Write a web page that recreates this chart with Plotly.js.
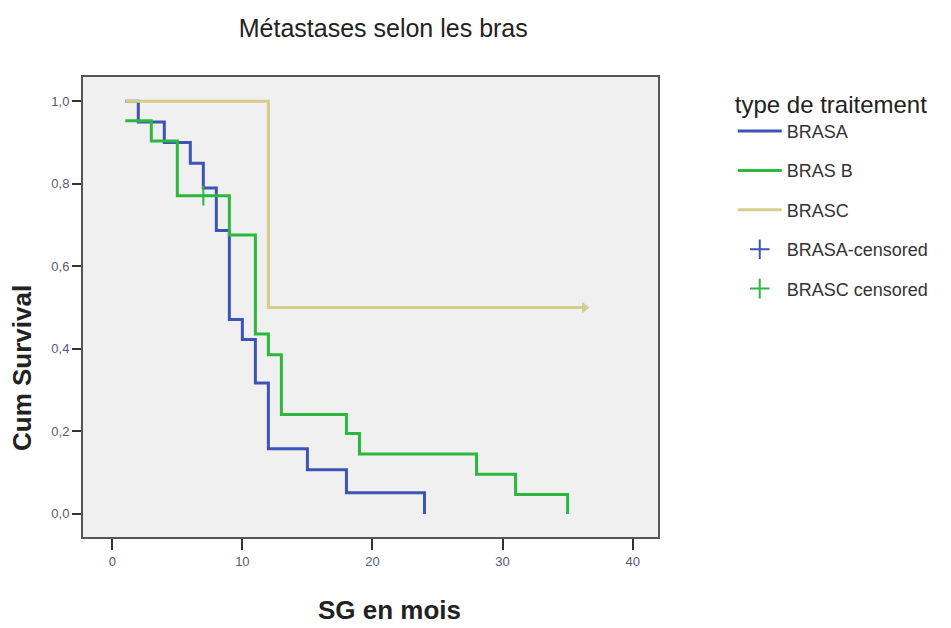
<!DOCTYPE html>
<html>
<head>
<meta charset="utf-8">
<script src="https://cdn.plot.ly/plotly-3.0.1.min.js"></script>
<style>
  html, body { margin: 0; padding: 0; background: #ffffff; }
  #chart { width: 951px; height: 628px; }
</style>
</head>
<body>
<div id="chart"></div>
<script>
// Kaplan-Meier steps (time in months, cumulative survival)
const brasATimes = [1, 2, 4, 6, 7, 8, 9, 10, 11, 12, 15, 18, 24];
const brasASurv  = [1.0, 0.95, 0.90, 0.85, 0.79, 0.687, 0.471, 0.423, 0.317, 0.158, 0.107, 0.051, 0.0];

const brasBTimes = [1, 3, 5, 9, 11, 12, 13, 18, 19, 28, 31, 35];
const brasBSurv  = [0.953, 0.904, 0.771, 0.676, 0.436, 0.386, 0.241, 0.195, 0.145, 0.096, 0.047, 0.0];

const brasCTimes = [1, 12, 36.3];
const brasCSurv  = [1.0, 0.5, 0.5];

// no visible censored mark for BRAS A in the reference (legend entry only)
const brasACensTimes = [null];
const brasACensSurv  = [null];
const brasCCensTimes = [7];
const brasCCensSurv  = [0.771];

const xTicks = [0, 10, 20, 30, 40];
const yTicks = [0, 0.2, 0.4, 0.6, 0.8, 1.0];

const names = ['BRASA', 'BRAS B', 'BRASC', 'BRASA-censored', 'BRASC censored'];
const colA = '#3d54b6', colB = '#2cb83e', colC = '#d6cc8c';
const font = 'Liberation Sans, Arial, sans-serif';

const traces = [
  { x: brasATimes, y: brasASurv, name: names[0], mode: 'lines', legendgroup: 'a',
    line: { shape: 'hv', color: colA, width: 3 } },
  { x: brasBTimes, y: brasBSurv, name: names[1], mode: 'lines', legendgroup: 'b',
    line: { shape: 'hv', color: colB, width: 3 } },
  { x: brasCTimes, y: brasCSurv, name: names[2], mode: 'lines', legendgroup: 'c',
    line: { shape: 'hv', color: colC, width: 3 } },
  { x: [brasCTimes[brasCTimes.length - 1]], y: [brasCSurv[brasCSurv.length - 1]],
    mode: 'markers', showlegend: false, hoverinfo: 'skip',
    marker: { symbol: 'triangle-right', size: 10, color: colC } },
  { x: brasACensTimes, y: brasACensSurv, name: names[3], mode: 'markers', legendgroup: 'd',
    showlegend: true,
    marker: { symbol: 'cross-thin', size: 14, line: { color: colA, width: 2 }, color: colA } },
  { x: brasCCensTimes, y: brasCCensSurv, name: names[4], mode: 'markers', legendgroup: 'e',
    marker: { symbol: 'cross-thin', size: 14, line: { color: colB, width: 2 }, color: colB } }
];

const layout = {
  width: 951, height: 628,
  margin: { l: 83, r: 293, t: 77, b: 91 },
  paper_bgcolor: '#ffffff',
  plot_bgcolor: '#f0f0f0',
  separators: ',.',
  font: { family: font, color: '#333333' },
  title: {
    text: 'Métastases selon les bras',
    font: { family: font, size: 25, color: '#222222' },
    xref: 'container', yref: 'container', x: 0.403, y: 1 - 28 / 628,
    xanchor: 'center', yanchor: 'middle'
  },
  xaxis: {
    range: [-2.25, 41.95], tickvals: xTicks, ticktext: xTicks.map(String),
    ticks: 'outside', ticklen: 11, tickwidth: 2, tickcolor: '#333333',
    showgrid: false, zeroline: false,
    showline: true, mirror: true, linecolor: '#555555', linewidth: 2,
    tickfont: { family: font, size: 13, color: '#555a70' }
  },
  yaxis: {
    range: [-0.056, 1.059], tickvals: yTicks, tickformat: '.1f',
    ticks: 'outside', ticklen: 9, tickwidth: 2, tickcolor: '#333333',
    showgrid: false, zeroline: false,
    showline: true, mirror: true, linecolor: '#555555', linewidth: 2,
    tickfont: { family: font, size: 13, color: '#555a70' }
  },
  legend: {
    x: 1.13, xanchor: 'left', y: 0.99, yanchor: 'top',
    bgcolor: 'rgba(0,0,0,0)',
    title: { text: 'type de traitement', font: { family: font, size: 24, color: '#222222' } },
    font: { family: font, size: 18, color: '#333333' },
    itemwidth: 44,
    traceorder: 'grouped', tracegroupgap: 13
  },
  annotations: [
    { text: '<b>SG en mois</b>', xref: 'paper', yref: 'paper',
      x: (389 - 83) / 575, y: (537 - 610) / 460, xanchor: 'center', yanchor: 'middle',
      showarrow: false, font: { family: font, size: 26, color: '#222222' } },
    { text: '<b>Cum Survival</b>', xref: 'paper', yref: 'paper', textangle: -90,
      x: (22 - 83) / 575, y: (537 - 368) / 460, xanchor: 'center', yanchor: 'middle',
      showarrow: false, font: { family: font, size: 26, color: '#222222' } }
  ],
  showlegend: true
};

Plotly.newPlot('chart', traces, layout, { displayModeBar: false, staticPlot: true });
</script>
</body>
</html>
